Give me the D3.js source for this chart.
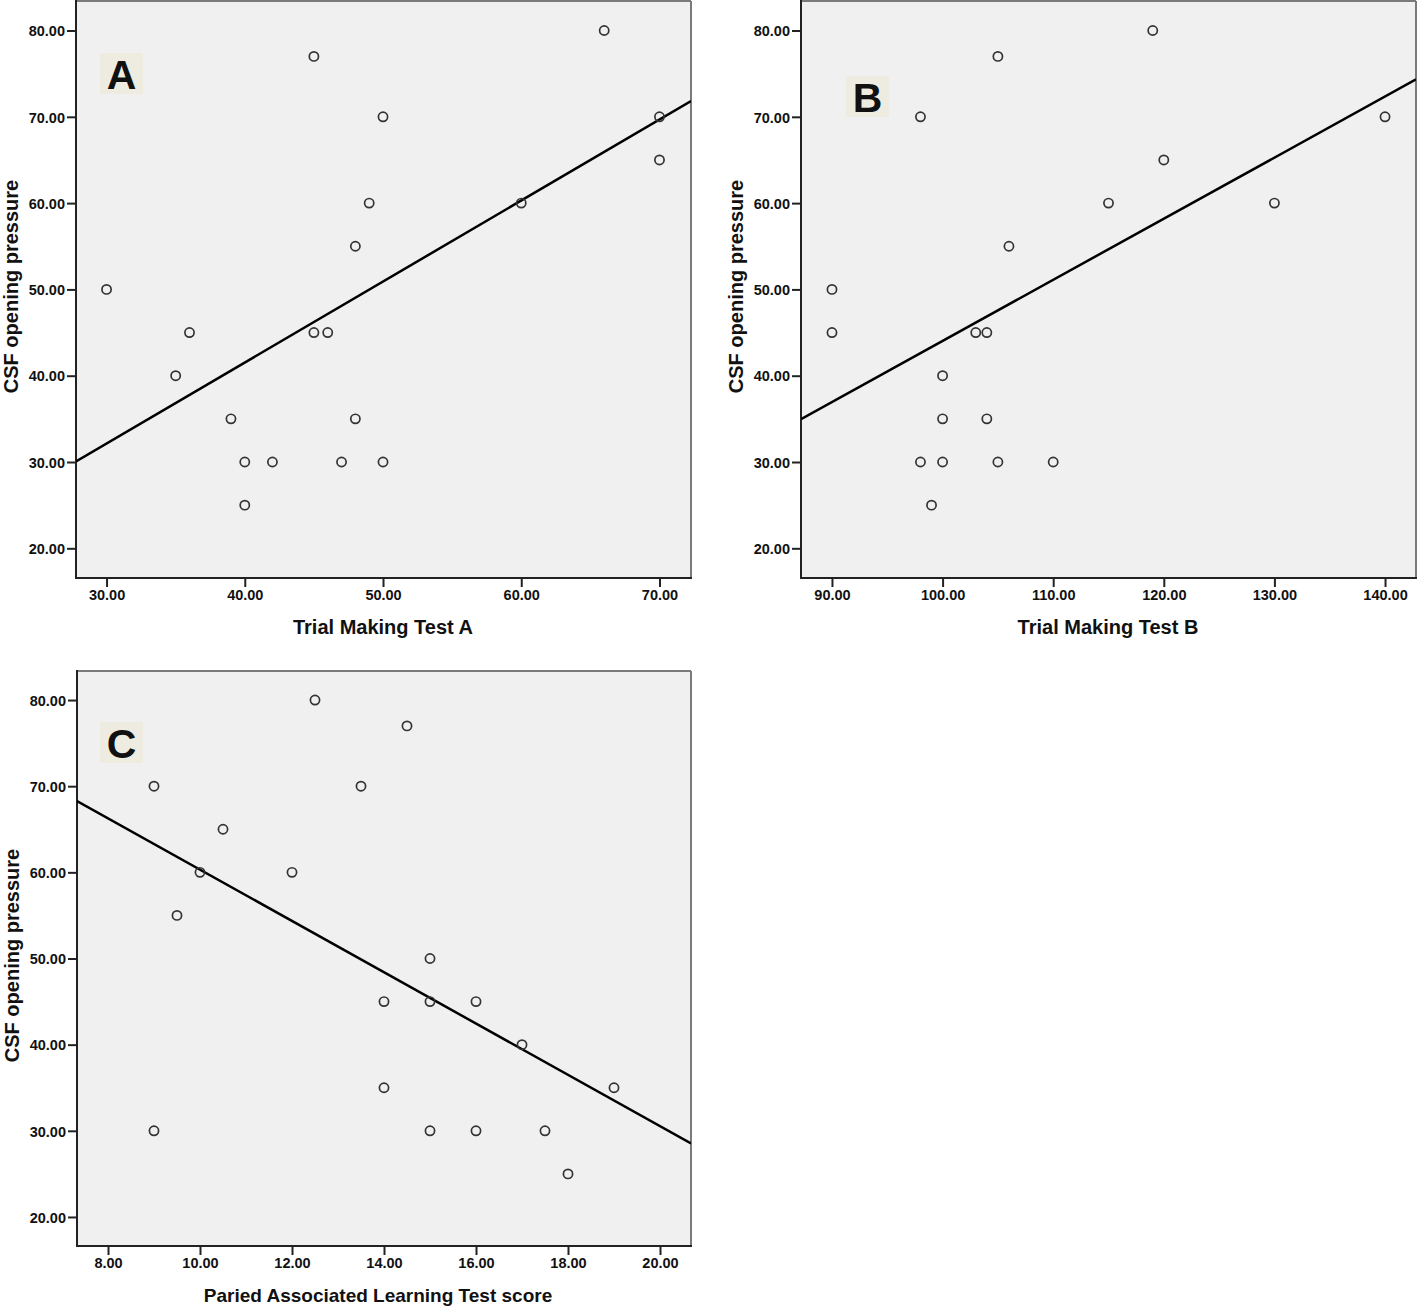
<!DOCTYPE html>
<html>
<head>
<meta charset="utf-8">
<script src="https://cdn.jsdelivr.net/npm/d3@7"></script>
<style>
  html, body { margin: 0; padding: 0; background: #fff; }
  svg { display: block; }
  text { font-family: "Liberation Sans", Arial, sans-serif; font-weight: bold; fill: #111; }
</style>
</head>
<body>
<script>
// ---------- DATA ----------
const csfPressure = [50, 40, 45, 35, 30, 25, 30, 77, 45, 45, 30, 55, 35, 60, 70, 30, 60, 80, 70, 65];
const trailA      = [30, 35, 36, 39, 40, 40, 42, 45, 45, 46, 47, 48, 48, 49, 50, 50, 60, 66, 70, 70];

const csfPressureB = [50, 45, 70, 30, 25, 40, 35, 30, 45, 45, 35, 77, 30, 55, 30, 60, 80, 65, 60, 70];
const trailB       = [90, 90, 98, 98, 99, 100, 100, 100, 103, 104, 104, 105, 105, 106, 110, 115, 119, 120, 130, 140];

const csfPressureC = [70, 30, 55, 60, 65, 60, 80, 70, 45, 35, 77, 50, 45, 30, 45, 30, 40, 30, 25, 35];
const palScore     = [9, 9, 9.5, 10, 10.5, 12, 12.5, 13.5, 14, 14, 14.5, 15, 15, 15, 16, 16, 17, 17.5, 18, 19];

const yTicks  = [20, 30, 40, 50, 60, 70, 80];
const xTicksA = [30, 40, 50, 60, 70];
const xTicksB = [90, 100, 110, 120, 130, 140];
const xTicksC = [8, 10, 12, 14, 16, 18, 20];

const yTitle = "CSF opening pressure";
const xTitles = ["Trial Making Test A", "Trial Making Test B", "Paried Associated Learning Test score"];
const panelLetters = ["A", "B", "C"];

// ---------- LAYOUT ----------
const W = 1418, H = 1306;
const svg = d3.select("body").append("svg").attr("width", W).attr("height", H);
svg.append("rect").attr("width", W).attr("height", H).attr("fill", "#fff");

const panels = [
  { x: trailA, y: csfPressure, xt: xTicksA, left: 76, top: 1, right: 691, bottom: 578,
    xd: [27.79, 72.28], yd: [16.56, 83.42], letterDx: 24, letterDy: 52, titleCx: 383, titleSize: 20 },
  { x: trailB, y: csfPressureB, xt: xTicksB, left: 801, top: 1, right: 1416, bottom: 578,
    xd: [87.2, 142.8], yd: [16.56, 83.42], letterDx: 45, letterDy: 75, titleCx: 1108, titleSize: 20 },
  { x: palScore, y: csfPressureC, xt: xTicksC, left: 77, top: 671, right: 691, bottom: 1246,
    xd: [7.326, 20.674], yd: [16.63, 83.37], letterDx: 23, letterDy: 51, titleCx: 378, titleSize: 19 }
];

function fit(xs, ys) {
  const mx = d3.mean(xs), my = d3.mean(ys);
  let sxy = 0, sxx = 0;
  xs.forEach((v, i) => { sxy += (v - mx) * (ys[i] - my); sxx += (v - mx) * (v - mx); });
  const b = sxy / sxx;
  return { b, a: my - b * mx };
}

panels.forEach((p, pi) => {
  const x = d3.scaleLinear().domain(p.xd).range([p.left, p.right]);
  const y = d3.scaleLinear().domain(p.yd).range([p.bottom, p.top]);
  const g = svg.append("g");

  g.append("rect")
    .attr("x", p.left).attr("y", p.top)
    .attr("width", p.right - p.left).attr("height", p.bottom - p.top)
    .attr("fill", "#f0f0f0");

  const cid = "clip" + pi;
  svg.append("clipPath").attr("id", cid).append("rect")
    .attr("x", p.left).attr("y", p.top)
    .attr("width", p.right - p.left).attr("height", p.bottom - p.top);

  g.append("line").attr("x1", p.left).attr("x2", p.right).attr("y1", p.top).attr("y2", p.top)
    .attr("stroke", "#7a7a7a").attr("stroke-width", 2);
  g.append("line").attr("x1", p.right).attr("x2", p.right).attr("y1", p.top).attr("y2", p.bottom)
    .attr("stroke", "#7a7a7a").attr("stroke-width", 2);

  const yAxis = d3.axisLeft(y).tickValues(yTicks).tickFormat(d3.format(".2f"))
    .tickSizeInner(9).tickSizeOuter(0).tickPadding(2);
  const xAxis = d3.axisBottom(x).tickValues(p.xt).tickFormat(d3.format(".2f"))
    .tickSizeInner(9).tickSizeOuter(0).tickPadding(3);

  const ya = g.append("g").attr("transform", `translate(${p.left},0)`).call(yAxis);
  const xa = g.append("g").attr("transform", `translate(0,${p.bottom})`).call(xAxis);
  [ya, xa].forEach(a => {
    a.select(".domain").remove();
    a.selectAll(".tick line").attr("stroke", "#222").attr("stroke-width", 2);
    a.selectAll(".tick text").attr("fill", "#111")
      .style("font-family", '"Liberation Sans", Arial, sans-serif')
      .style("font-weight", "bold").style("font-size", "14.5px");
  });
  ya.selectAll(".tick text").attr("dy", "0.36em");

  g.append("line").attr("x1", p.left).attr("x2", p.left).attr("y1", p.top - 1).attr("y2", p.bottom + 1)
    .attr("stroke", "#222").attr("stroke-width", 2);
  g.append("line").attr("x1", p.left - 1).attr("x2", p.right + 1).attr("y1", p.bottom).attr("y2", p.bottom)
    .attr("stroke", "#222").attr("stroke-width", 2);

  const f = fit(p.x, p.y);
  const inner = g.append("g").attr("clip-path", `url(#${cid})`);
  inner.append("line")
    .attr("x1", x(p.xd[0])).attr("y1", y(f.a + f.b * p.xd[0]))
    .attr("x2", x(p.xd[1])).attr("y2", y(f.a + f.b * p.xd[1]))
    .attr("stroke", "#000").attr("stroke-width", 2.5);

  inner.selectAll("circle.pt").data(p.x.map((v, i) => [v, p.y[i]])).join("circle")
    .attr("class", "pt")
    .attr("cx", d => x(d[0])).attr("cy", d => y(d[1])).attr("r", 4.6)
    .attr("fill", "none").attr("stroke", "#333").attr("stroke-width", 1.7);

  const bx = p.left + p.letterDx, by = p.top + p.letterDy;
  g.append("rect").attr("x", bx).attr("y", by).attr("width", 43).attr("height", 41).attr("fill", "#eeece1");
  g.append("text").attr("x", bx + 21.5).attr("y", by + 35.5).attr("text-anchor", "middle")
    .style("font-size", "41px").style("font-family", '"Liberation Sans", Arial, sans-serif')
    .attr("fill", "#000").text(panelLetters[pi]);

  g.append("text").attr("x", p.titleCx).attr("y", p.bottom + 56).attr("text-anchor", "middle")
    .style("font-size", p.titleSize + "px").text(xTitles[pi]);
  const cy = (p.top + p.bottom) / 2 - 3;
  g.append("text").attr("transform", `translate(${p.left - 58},${cy}) rotate(-90)`)
    .attr("text-anchor", "middle").style("font-size", "20px").text(yTitle);
});
</script>
</body>
</html>
